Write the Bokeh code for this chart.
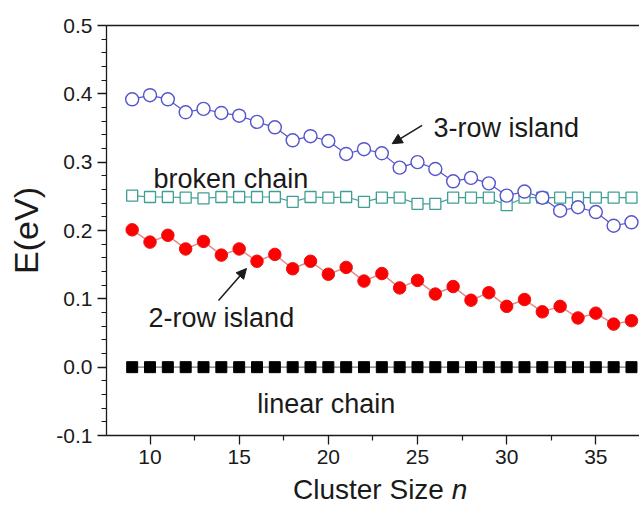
from bokeh.plotting import figure
from bokeh.layouts import column
from bokeh.models import (Range1d, FixedTicker, LinearAxis, Label, Arrow, NormalHead,
                          CustomJSTickFormatter, Div)
from bokeh.embed import file_html
from bokeh.resources import INLINE

# ---- data ----
n = list(range(9, 38))
linear_chain = [0.0] * 29
two_row = [0.201, 0.183, 0.193, 0.173, 0.184, 0.164, 0.173, 0.155, 0.165, 0.144,
           0.155, 0.136, 0.146, 0.126, 0.137, 0.116, 0.127, 0.107, 0.118, 0.098,
           0.109, 0.089, 0.099, 0.081, 0.089, 0.072, 0.079, 0.063, 0.068]
broken_chain = [0.251, 0.249, 0.249, 0.248, 0.247, 0.249, 0.249, 0.249, 0.249, 0.242,
                0.249, 0.248, 0.249, 0.242, 0.248, 0.248, 0.239, 0.239, 0.248, 0.248,
                0.248, 0.237, 0.248, 0.248, 0.248, 0.248, 0.248, 0.248, 0.248]
three_row = [0.392, 0.398, 0.392, 0.373, 0.378, 0.372, 0.368, 0.359, 0.351, 0.332,
             0.338, 0.331, 0.312, 0.319, 0.313, 0.292, 0.300, 0.290, 0.272, 0.277,
             0.269, 0.251, 0.257, 0.248, 0.229, 0.234, 0.227, 0.207, 0.212]
x_major = [10, 15, 20, 25, 30, 35]
x_minor = [7.5, 12.5, 17.5, 22.5, 27.5, 32.5, 37.5]
y_major = [-0.1, 0.0, 0.1, 0.2, 0.3, 0.4, 0.5]
y_minor = [round(-0.1 + 0.02 * i, 2) for i in range(31)]

FONT = "Liberation Sans"
INK = "#1a1a1a"

p = figure(width=639, height=475, output_backend="svg", toolbar_location=None,
           x_range=Range1d(7.56, 37.45), y_range=Range1d(-0.1, 0.5),
           min_border_left=106, min_border_right=0, min_border_top=25, min_border_bottom=40,
           y_axis_label="E(eV)")
p.outline_line_color = None
p.grid.visible = False
p.background_fill_color = "white"
p.border_fill_color = "white"

for ax in (p.xaxis[0], p.yaxis[0]):
    ax.axis_line_color = INK
    ax.axis_line_width = 1.3
    ax.major_tick_line_color = INK
    ax.minor_tick_line_color = INK
    ax.major_tick_line_width = 1.3
    ax.minor_tick_line_width = 1.2
    ax.major_tick_in = 0
    ax.minor_tick_in = 0
    ax.major_tick_out = 9
    ax.minor_tick_out = 5
    ax.major_label_text_font = FONT
    ax.major_label_text_color = INK
    ax.major_label_text_font_size = "21px"
    ax.axis_label_text_font = FONT
    ax.axis_label_text_font_style = "normal"
    ax.axis_label_text_color = INK

p.xaxis[0].ticker = FixedTicker(ticks=x_major, minor_ticks=x_minor)
p.yaxis[0].ticker = FixedTicker(ticks=y_major, minor_ticks=y_minor)
p.yaxis[0].axis_label_text_font_size = "34px"
p.xaxis[0].major_label_standoff = 5
p.yaxis[0].major_label_standoff = 5
p.yaxis[0].axis_label_standoff = 8
p.yaxis[0].formatter = CustomJSTickFormatter(code="return tick.toFixed(1);")

top = LinearAxis(ticker=FixedTicker(ticks=[]), major_label_text_font_size="0px",
                 axis_line_color=INK, axis_line_width=1.3,
                 major_tick_line_color=None, minor_tick_line_color=None)
p.add_layout(top, "above")

# series
p.line(n, linear_chain, line_color="#777777", line_width=1.2)
p.scatter(n, linear_chain, marker="square", size=11, fill_color="black", line_color="black")

p.line(n, two_row, line_color="#e58a8a", line_width=1.5)
p.scatter(n, two_row, marker="circle", size=12.5, fill_color="#ff0000", line_color="#ee1111")

p.line(n, broken_chain, line_color="#3f9f95", line_width=1.2)
p.scatter(n, broken_chain, marker="square", size=11, fill_color="white",
          line_color="#3f9f95", line_width=1.3)

p.line(n, three_row, line_color="#5555cc", line_width=1.2)
p.scatter(n, three_row, marker="circle", size=13, fill_color="white",
          line_color="#5555cc", line_width=1.4)

# annotations
lab_kw = dict(text_font=FONT, text_font_size="27px", text_color=INK,
              text_baseline="alphabetic", text_align="left")
p.add_layout(Label(x=25.9, y=0.3507, text="3-row island", **lab_kw))
p.add_layout(Label(x=10.2, y=0.2747, text="broken chain", **lab_kw))
p.add_layout(Label(x=9.92, y=0.0713, text="2-row island", **lab_kw))
p.add_layout(Label(x=16.01, y=-0.0532, text="linear chain", **lab_kw))

p.add_layout(Arrow(x_start=25.26, y_start=0.3537, x_end=23.58, y_end=0.327,
                   line_color=INK, line_width=1.5,
                   end=NormalHead(size=10, fill_color=INK, line_color=INK)))
p.add_layout(Arrow(x_start=13.84, y_start=0.0975, x_end=15.41, y_end=0.1444,
                   line_color=INK, line_width=1.5,
                   end=NormalHead(size=10, fill_color=INK, line_color=INK)))

# x-axis title (regular "Cluster Size" + italic "n")
title = Div(text=('<div style="margin-left:293px; font-family:\'Liberation Sans\', Arial, sans-serif; '
                  'font-size:28px; line-height:30px; color:#1a1a1a; white-space:nowrap;">'
                  'Cluster Size <i>n</i></div>'),
            width=639, height=33, margin=0)

layout = column(p, title, spacing=0)
open("out.html", "w").write(file_html(layout, INLINE))
